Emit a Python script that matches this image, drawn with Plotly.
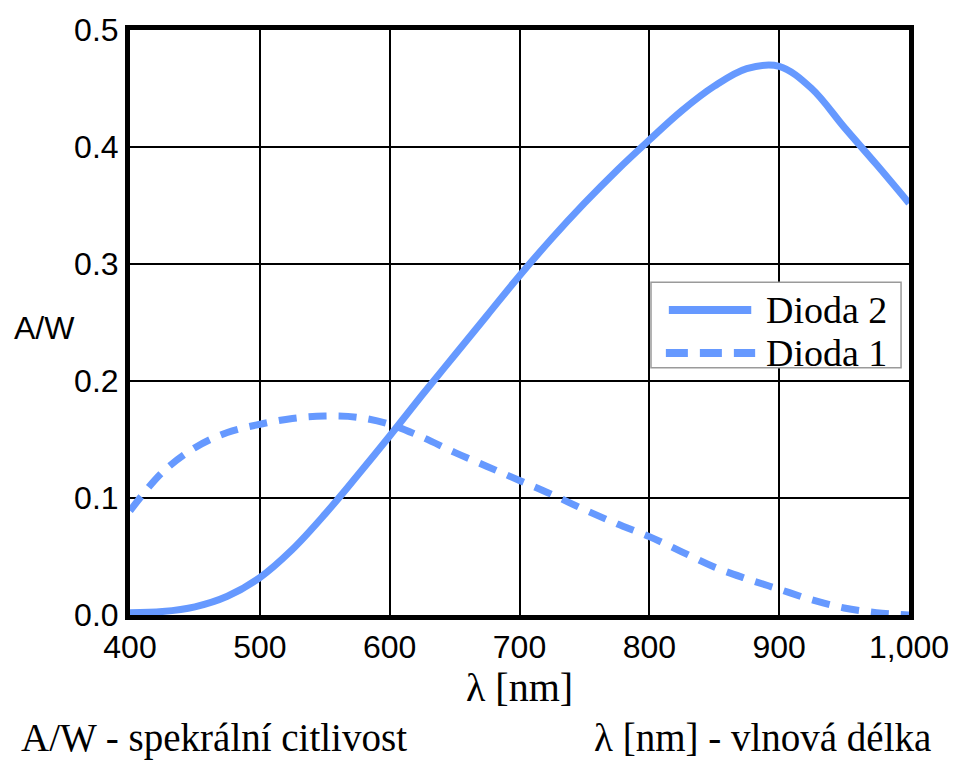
import plotly.graph_objects as go

# Wavelength samples [nm]
wavelength_d2 = [400, 425, 450, 475, 500, 525, 550, 575, 600, 625, 650, 675, 700, 725,
                 750, 775, 800, 825, 850, 875, 900, 925, 950, 975, 1000]
# Spectral sensitivity of diode 2 [A/W]
sens_d2 = [0.002, 0.003, 0.007, 0.016, 0.032, 0.056, 0.086, 0.119, 0.153, 0.188, 0.222,
           0.256, 0.290, 0.322, 0.352, 0.380, 0.406, 0.431, 0.452, 0.467, 0.469,
           0.450, 0.417, 0.385, 0.352]

wavelength_d1 = [400, 425, 450, 475, 500, 525, 550, 575, 600, 625, 650, 675, 700, 725,
                 750, 775, 800, 825, 850, 875, 900, 925, 950, 975, 1000]
# Spectral sensitivity of diode 1 [A/W]
sens_d1 = [0.089, 0.122, 0.143, 0.156, 0.163, 0.168, 0.170, 0.169, 0.163, 0.152, 0.139,
           0.127, 0.115, 0.103, 0.090, 0.078, 0.067, 0.054, 0.041, 0.031, 0.022, 0.013,
           0.006, 0.002, 0.000]

series_names = ["Dioda 2", "Dioda 1"]
x_ticks = [400, 500, 600, 700, 800, 900, 1000]
y_ticks = [0.0, 0.1, 0.2, 0.3, 0.4, 0.5]

BLUE = "#6699ff"
SANS = "Liberation Sans, Arial, sans-serif"
SERIF = "Liberation Serif, Times New Roman, serif"

fig = go.Figure()
fig.add_trace(go.Scatter(
    x=wavelength_d2, y=sens_d2, name=series_names[0], mode="lines",
    line=dict(color=BLUE, width=7, shape="spline", smoothing=1.0),
))
fig.add_trace(go.Scatter(
    x=wavelength_d1, y=sens_d1, name=series_names[1], mode="lines",
    line=dict(color=BLUE, width=7, shape="spline", smoothing=1.0, dash="18px,12px"),
))

fig.update_layout(
    width=961, height=764,
    margin=dict(l=130, r=46, t=28, b=149),
    paper_bgcolor="white", plot_bgcolor="white",
    showlegend=False,
    xaxis=dict(
        range=[400, 1000], tickvals=x_ticks, tickformat=",",
        showgrid=True, gridcolor="black", gridwidth=1.5,
        showline=True, linecolor="black", linewidth=5, mirror=True,
        ticks="", zeroline=False,
        tickfont=dict(family=SANS, size=32, color="black"),
        title=dict(text="λ [nm]", font=dict(family=SERIF, size=40, color="black"), standoff=2),
    ),
    yaxis=dict(
        range=[0, 0.5], tickvals=y_ticks, tickformat=".1f",
        showgrid=True, gridcolor="black", gridwidth=1.5,
        showline=True, linecolor="black", linewidth=5, mirror=True,
        ticks="", zeroline=False,
        tickfont=dict(family=SANS, size=32, color="black"),
    ),
)

# Legend box drawn in paper coordinates
fig.add_shape(type="rect", xref="paper", yref="paper",
              x0=0.6688, x1=0.9898, y0=0.4225, y1=0.569,
              line=dict(color="#9a9a9a", width=1.5), fillcolor="white", layer="above")
fig.add_shape(type="line", xref="paper", yref="paper",
              x0=0.6917, x1=0.7975, y0=0.5213, y1=0.5213,
              line=dict(color=BLUE, width=8), layer="above")
fig.add_shape(type="line", xref="paper", yref="paper",
              x0=0.6879, x1=0.8025, y0=0.4480, y1=0.4480,
              line=dict(color=BLUE, width=8, dash="22px,12px"), layer="above")
for name, ypos in zip(series_names, [0.5213, 0.4480]):
    fig.add_annotation(
        text=name, xref="paper", yref="paper", x=0.8140, y=ypos,
        xanchor="left", yanchor="middle", showarrow=False,
        font=dict(family=SERIF, size=38, color="black"),
    )

# Horizontal unit label beside the y axis
fig.add_annotation(
    text="A/W", xref="paper", yref="paper", x=-0.152, y=0.491,
    xanchor="left", yanchor="middle", showarrow=False,
    font=dict(family=SANS, size=32, color="black"),
)
# Explanatory notes under the chart
fig.add_annotation(
    text="A/W - spekrální citlivost", xref="paper", yref="paper", x=-0.142, y=-0.210,
    xanchor="left", yanchor="middle", showarrow=False,
    font=dict(family=SERIF, size=39, color="black"),
)
fig.add_annotation(
    text="λ [nm] - vlnová délka", xref="paper", yref="paper", x=1.031, y=-0.210,
    xanchor="right", yanchor="middle", showarrow=False,
    font=dict(family=SERIF, size=39, color="black"),
)

fig.write_html("out.html")
